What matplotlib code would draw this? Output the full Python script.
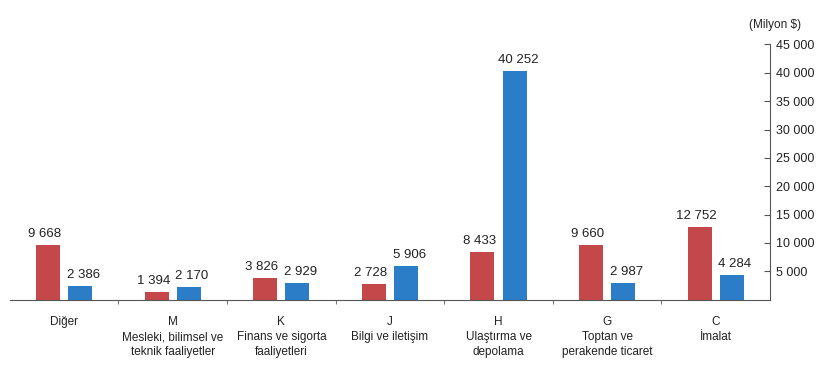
import numpy as np
import matplotlib.pyplot as plt

plt.rcParams['font.family'] = ['Liberation Sans', 'DejaVu Sans']

# kategoriler (görüntüdeki soldan sağa sıra)
codes = ['', 'M', 'K', 'J', 'H', 'G', 'C']
names = ['Diğer', 'Mesleki, bilimsel ve\nteknik faaliyetler', 'Finans ve sigorta\nfaaliyetleri',
         'Bilgi ve iletişim', 'Ulaştırma ve\ndepolama', 'Toptan ve\nperakende ticaret', 'İmalat']
red_vals = [9668, 1394, 3826, 2728, 8433, 9660, 12752]
blue_vals = [2386, 2170, 2929, 5906, 40252, 2987, 4284]
y_ticks = [5000, 10000, 15000, 20000, 25000, 30000, 35000, 40000, 45000]


def fmt(v):
    return f'{v:,}'.replace(',', ' ')


fig = plt.figure(figsize=(8.2, 3.7), dpi=100)
ax = fig.add_axes([0.012, 0.19, 0.927, 0.69])

x = np.arange(len(names))
w = 0.22
off = 0.148
ax.bar(x - off, red_vals, width=w, color='#C4484A')
ax.bar(x + off, blue_vals, width=w, color='#2A7DC6')

for i in range(len(x)):
    ax.text(x[i] - off - 0.03, red_vals[i] + 900, fmt(red_vals[i]), ha='center', va='bottom',
            fontsize=9.5, color='#222222')
    ax.text(x[i] + off + 0.03, blue_vals[i] + 900, fmt(blue_vals[i]), ha='center', va='bottom',
            fontsize=9.5, color='#222222')

ax.set_xlim(-0.5, 6.5)
ax.set_ylim(0, 45000)

# eksen: sağda
ax.spines['top'].set_visible(False)
ax.spines['left'].set_visible(False)
ax.spines['right'].set_color('#555555')
ax.spines['bottom'].set_color('#555555')
ax.yaxis.tick_right()
ax.set_yticks(y_ticks)
ax.set_yticklabels([fmt(t) for t in y_ticks], fontsize=9, color='#222222')
ax.tick_params(axis='y', direction='in', length=4, color='#555555', pad=4)

ax.set_xticks(np.arange(0.5, 6.5, 1.0))
ax.set_xticklabels([])
ax.tick_params(axis='x', direction='out', length=3, color='#777777')

for i in range(len(x)):
    lab = (codes[i] + '\n' + names[i]) if codes[i] else names[i]
    ax.text(x[i], -2900, lab, ha='center', va='top', fontsize=8.5, color='#222222',
            linespacing=1.35, transform=ax.transData)

fig.text(0.945, 0.915, '(Milyon $)', ha='center', va='bottom', fontsize=8.5, color='#222222')

fig.savefig('out.png', dpi=100)
